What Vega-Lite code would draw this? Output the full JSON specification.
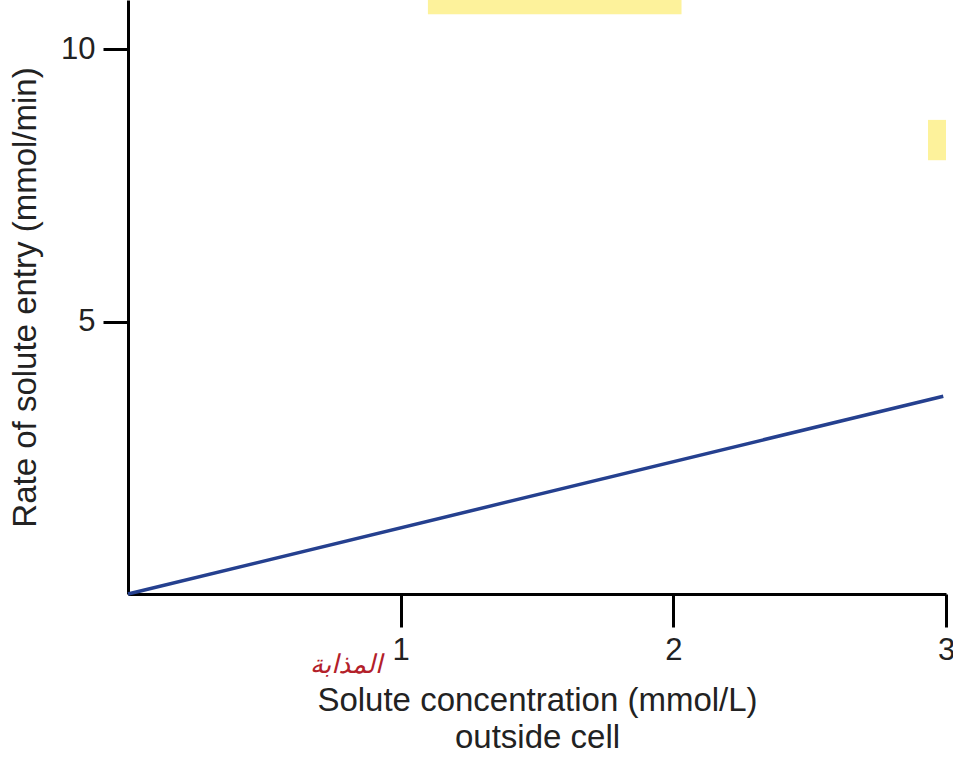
{
  "$schema": "https://vega.github.io/schema/vega-lite/v6.json",
  "width": 818,
  "height": 594,
  "autosize": {"type": "none"},
  "padding": {"left": 128, "top": 0, "right": 7, "bottom": 164},
  "background": "white",
  "config": {"view": {"stroke": null}, "font": "Liberation Sans"},
  "datasets": {
    "line": [{"conc": 0, "rate": 0}, {"conc": 2.99, "rate": 3.63}],
    "highlights": [
      {"x1": 1.1, "x2": 2.03, "y1": 10.64, "y2": 10.9},
      {"x1": 2.934, "x2": 3.0, "y1": 7.96, "y2": 8.7}
    ],
    "notes": [{"conc": 0.8, "rate": -1.3, "label": "المذابة"}]
  },
  "layer": [
    {
      "data": {"name": "highlights"},
      "mark": {"type": "rect", "color": "#fdf08a", "opacity": 0.85},
      "encoding": {
        "x": {"field": "x1", "type": "quantitative", "scale": {"domain": [0, 3]}},
        "x2": {"field": "x2"},
        "y": {"field": "y1", "type": "quantitative", "scale": {"domain": [0, 10.9]}},
        "y2": {"field": "y2"}
      }
    },
    {
      "data": {"name": "line"},
      "mark": {"type": "line", "color": "#25408f", "strokeWidth": 3.5},
      "encoding": {
        "x": {
          "field": "conc", "type": "quantitative",
          "scale": {"domain": [0, 3]},
          "axis": {
            "values": [1, 2, 3], "format": "d", "grid": false,
            "domainColor": "black", "domainWidth": 3,
            "tickColor": "black", "tickWidth": 3, "tickSize": 33,
            "labelFontSize": 31, "labelColor": "#222", "labelPadding": 8,
            "labelBound": false, "labelFlush": false, "labelOverlap": false,
            "title": ["Solute concentration (mmol/L)", "outside cell"],
            "titleFontSize": 33, "titleFontWeight": "normal", "titleColor": "#222",
            "titleLineHeight": 37, "titlePadding": 19
          }
        },
        "y": {
          "field": "rate", "type": "quantitative",
          "scale": {"domain": [0, 10.9]},
          "axis": {
            "values": [5, 10], "format": "d", "grid": false,
            "domainColor": "black", "domainWidth": 3,
            "tickColor": "black", "tickWidth": 3, "tickSize": 25,
            "labelFontSize": 31, "labelColor": "#222", "labelPadding": 8,
            "labelOverlap": false,
            "title": "Rate of solute entry (mmol/min)",
            "titleFontSize": 33, "titleFontWeight": "normal", "titleColor": "#222",
            "titlePadding": 18
          }
        }
      }
    },
    {
      "data": {"name": "notes"},
      "mark": {"type": "text", "color": "#b3202a", "fontSize": 26, "font": "DejaVu Sans", "fontStyle": "italic"},
      "encoding": {
        "x": {"field": "conc", "type": "quantitative", "scale": {"domain": [0, 3]}},
        "y": {"field": "rate", "type": "quantitative", "scale": {"domain": [0, 10.9]}},
        "text": {"field": "label"}
      }
    }
  ]
}
